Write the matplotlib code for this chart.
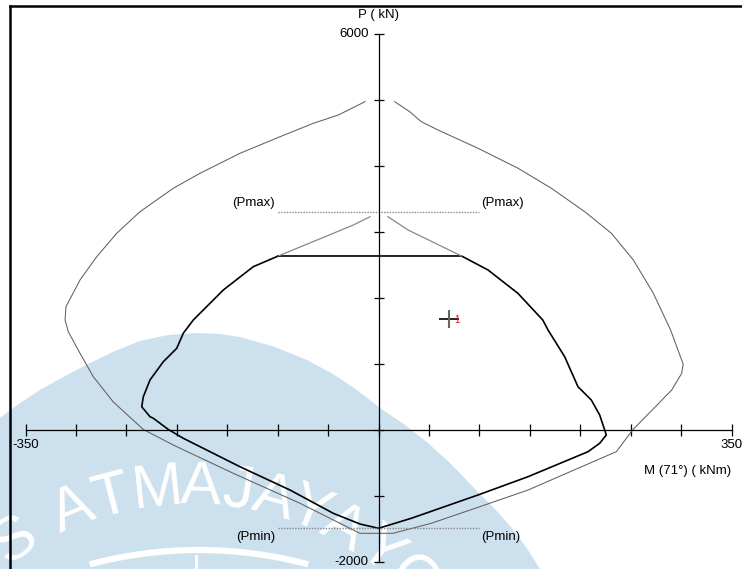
import numpy as np
import matplotlib
matplotlib.use("Agg")
import matplotlib.pyplot as plt
from matplotlib.lines import Line2D
from matplotlib.patches import Polygon, Arc

plt.rcParams['font.family'] = ['Liberation Sans', 'DejaVu Sans']

# nominal P-M curve (kNm, kN), from top-left end round to top-right end
nominal_m = [-13.4, -39.9, -64.7, -97.7, -137.4, -177.0, -203.5, -236.5, -259.6,
             -279.4, -296.0, -309.9, -310.8, -307.6, -296.0, -282.8, -263.2,
             -233.2, -203.5, -144.0, -77.9, -18.4,
             14.3, 52.3, 105.2, 148.2, 197.7, 235.7, 252.3, 269.6, 290.6, 300.5,
             302.0, 289.5, 272.4, 252.6, 230.8, 204.4, 171.3, 138.3, 98.6, 58.9,
             42.4, 30.9, 16.0]
nominal_p = [4967, 4765, 4639, 4436, 4185, 3882, 3655, 3300, 2973,
             2618, 2265, 1861, 1659, 1482, 1155, 800, 421,
             0, -235, -664, -1118, -1573,
             -1573, -1421, -1144, -917, -588, -336, 0, 270, 598, 850,
             990, 1508, 2064, 2568, 2973, 3300, 3655, 3958, 4261, 4538,
             4664, 4815, 4967]

# design curve (phi Pn, phi Mn), left cap corner round to right cap corner
design_m = [-99.4, -124.2, -153.9, -183.7, -193.6, -200.1, -213.4, -226.6, -233.2,
            -234.8, -226.6, -223.3, -208.4, -193.6, -137.4, -87.8, -44.9, -18.4,
            0.0, 32.5, 98.6, 148.2, 207.7, 219.2, 225.8, 219.2, 210.9, 197.7,
            184.5, 168.0, 162.8, 138.1, 108.5, 82.2]
design_p = [2629, 2467, 2114, 1659, 1458, 1230, 1027, 750, 497,
            345, 194, 170, 0, -133, -564, -917, -1270, -1432,
            -1497, -1345, -992, -715, -336, -209, -83, 220, 447, 648,
            1103, 1508, 1659, 2064, 2417, 2629]

# design curve above the axial cap
uncapped_left_m = [-99.4, -25.0, -8.5]
uncapped_left_p = [2629, 3098, 3224]
uncapped_right_m = [9.4, 29.2, 82.2]
uncapped_right_p = [3224, 3023, 2629]

p_max = 3290
p_min = -1495
limit_m = [-100, 100]

load_m = [70]
load_p = [1680]
load_ids = ['1']

x_ticks = np.arange(-350, 351, 50)
y_ticks = np.arange(-2000, 6001, 1000)

fig = plt.figure(figsize=(7.42, 5.69), dpi=100)

# watermark layer in pixel units
bg = fig.add_axes([0, 0, 1, 1], zorder=0)
bg.set_xlim(0, 742)
bg.set_ylim(569, 0)
bg.axis('off')
wm_edge = [(0, 418), (20, 403), (40, 390), (65, 376), (90, 363), (115, 351),
           (140, 341), (168, 335), (197, 333), (220, 334), (240, 337),
           (275, 347), (307, 360), (333, 374), (357, 390), (380, 408),
           (405, 425), (428, 443), (452, 465), (475, 489), (494, 508),
           (511, 527), (526, 547), (540, 569), (0, 569)]
bg.add_patch(Polygon(wm_edge, closed=True, facecolor='#cde0ed', edgecolor='none'))
bg.add_patch(Arc((199, 972), 844, 844, theta1=255, theta2=285,
                 color='white', lw=4.5))
bg.plot([196, 196], [556, 569], color='white', lw=2)
wm_letters = ['S', 'A', 'T', 'M', 'A', 'J', 'A', 'Y', 'A', 'Y', 'O']
wm_angles = [-34, -22, -14.5, -6, 2, 9, 15.5, 22.5, 29.5, 37.5, 45.5]
for ch, th in zip(wm_letters, wm_angles):
    t = np.radians(th)
    bg.text(190 + 312 * np.sin(t), 800 - 312 * np.cos(t), ch, color='white',
            fontsize=44, ha='center', va='center', rotation=-th,
            rotation_mode='anchor')

ax = fig.add_axes([0, 0, 1, 1], zorder=1)
ax.patch.set_alpha(0)
ax.set_xlim(-375.3, 360.3)
ax.set_ylim(-2113.6, 6507.6)

for side in ['top', 'right']:
    ax.spines[side].set_visible(False)
ax.spines['left'].set_position(('data', 0))
ax.spines['bottom'].set_position(('data', 0))
ax.spines['left'].set_bounds(-2000, 6000)
ax.spines['bottom'].set_bounds(-350, 350)
ax.spines['left'].set_linewidth(0.9)
ax.spines['bottom'].set_linewidth(0.9)
ax.set_xticks(x_ticks)
ax.set_yticks(y_ticks)
ax.tick_params(axis='x', direction='inout', length=8.5, width=0.9,
               labelbottom=False)
ax.tick_params(axis='y', direction='inout', length=6.5, width=0.9,
               labelleft=False)

# curves
ax.plot(nominal_m, nominal_p, color='#606060', lw=0.75)
ax.plot(design_m + design_m[:1], design_p + design_p[:1], color='black', lw=1.2)
ax.plot(uncapped_left_m, uncapped_left_p, color='#888888', lw=0.9)
ax.plot(uncapped_right_m, uncapped_right_p, color='#888888', lw=0.9)
ax.plot(limit_m, [p_max, p_max], color='#8a8a8a', lw=1, ls=(0, (1, 1)))
ax.plot(limit_m, [p_min, p_min], color='#8a8a8a', lw=1, ls=(0, (1, 1)))

lab = dict(fontsize=9.5, textcoords='offset points')
ax.annotate('(Pmax)', (limit_m[0], p_max), xytext=(-2, 6.5), ha='right', va='center', **lab)
ax.annotate('(Pmax)', (limit_m[1], p_max), xytext=(1, 6.5), ha='left', va='center', **lab)
ax.annotate('(Pmin)', (limit_m[0], p_min), xytext=(-2, -6.5), ha='right', va='center', **lab)
ax.annotate('(Pmin)', (limit_m[1], p_min), xytext=(1, -6.5), ha='left', va='center', **lab)

# loads
ax.plot(load_m, load_p, marker='_', ms=14, mew=1.2, color='black', ls='none')
ax.plot(load_m, load_p, marker='|', ms=13, mew=1.5, color='#666666', ls='none')
for m, p, s in zip(load_m, load_p, load_ids):
    ax.annotate(s, (m, p), xytext=(5.5, -1), textcoords='offset points',
                color='red', fontsize=7, ha='center', va='center')

# axis end labels
ax.annotate(str(x_ticks[0]), (x_ticks[0], 0), xytext=(0, -11.5), ha='center', va='center', **lab)
ax.annotate(str(x_ticks[-1]), (x_ticks[-1], 0), xytext=(0, -11.5), ha='center', va='center', **lab)
ax.annotate(str(y_ticks[-1]), (0, y_ticks[-1]), xytext=(-7, 0), ha='right', va='center', **lab)
ax.annotate(str(y_ticks[0]), (0, y_ticks[0]), xytext=(-7, 0), ha='right', va='center', **lab)
ax.annotate('P ( kN)', (0, y_ticks[-1]), xytext=(0, 13), ha='center', va='center', **lab)
ax.annotate('M (71°) ( kNm)', (x_ticks[-1], 0), xytext=(0, -30), ha='right', va='center', **lab)

# frame
fig.add_artist(Line2D([10 / 742, 10 / 742], [0, 1 - 6 / 569], transform=fig.transFigure,
                      color='black', lw=1.8))
fig.add_artist(Line2D([10 / 742, 1], [1 - 6 / 569, 1 - 6 / 569], transform=fig.transFigure,
                      color='black', lw=1.8))

fig.savefig('out.png', dpi=100)
